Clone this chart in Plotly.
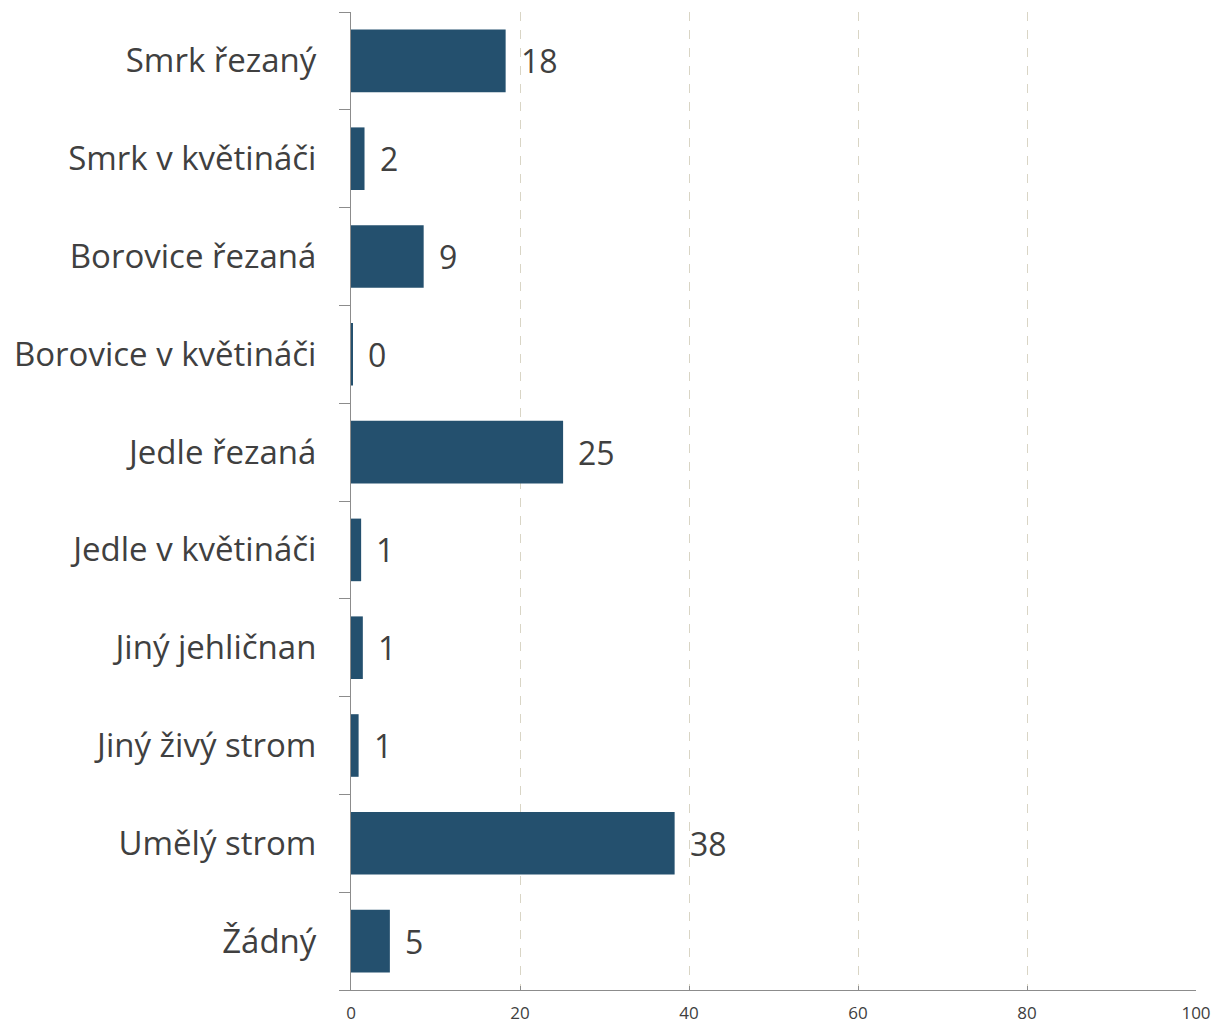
import plotly.graph_objects as go

# Christmas tree type shares (%)
categories = [
    "Smrk řezaný",
    "Smrk v květináči",
    "Borovice řezaná",
    "Borovice v květináči",
    "Jedle řezaná",
    "Jedle v květináči",
    "Jiný jehličnan",
    "Jiný živý strom",
    "Umělý strom",
    "Žádný",
]
values = [18.3, 1.6, 8.6, 0.2, 25.1, 1.2, 1.4, 0.9, 38.3, 4.6]
x_ticks = [0, 20, 40, 60, 80, 100]

BAR = "#24506E"
TEXT = "#404040"
AXIS = "#8C8C8C"
GRID = "#D9D5C5"
FONT = "Open Sans"

fig = go.Figure()
fig.add_trace(go.Bar(
    x=values,
    y=categories,
    orientation="h",
    marker=dict(color=BAR, line=dict(width=0)),
    width=0.64,
    hoverinfo="skip",
))

for cat, v in zip(categories, values):
    fig.add_annotation(
        x=v, y=cat, text=f"{v:.0f}",
        xanchor="left", yanchor="middle", xshift=13, yshift=0,
        showarrow=False,
        font=dict(family=FONT, size=32, color=TEXT),
    )

fig.update_layout(
    width=1215, height=1026,
    margin=dict(l=351, r=19, t=12, b=36, autoexpand=False),
    plot_bgcolor="white", paper_bgcolor="white",
    showlegend=False,
    font=dict(family=FONT, color=TEXT),
)
fig.update_xaxes(
    range=[0, 100],
    tickvals=x_ticks,
    ticktext=[str(t) for t in x_ticks],
    showgrid=True, gridcolor=GRID, griddash="dash", gridwidth=1,
    zeroline=False,
    showline=True, linecolor=AXIS, linewidth=1,
    ticks="inside", ticklen=4, tickcolor=AXIS,
    ticklabelstandoff=8,
    tickfont=dict(family=FONT, size=17, color=TEXT),
    automargin=False,
    fixedrange=True,
)
fig.update_yaxes(
    categoryorder="array", categoryarray=categories[::-1],
    autorange=False, range=[-0.5, len(categories) - 0.5],
    showgrid=False, zeroline=False,
    showline=True, linecolor=AXIS, linewidth=1,
    ticks="outside", tickson="boundaries", ticklen=11, tickcolor=AXIS,
    ticklabelstandoff=27,
    tickfont=dict(family=FONT, size=33, color=TEXT),
    automargin=False,
    fixedrange=True,
)

fig.write_html("out.html")
